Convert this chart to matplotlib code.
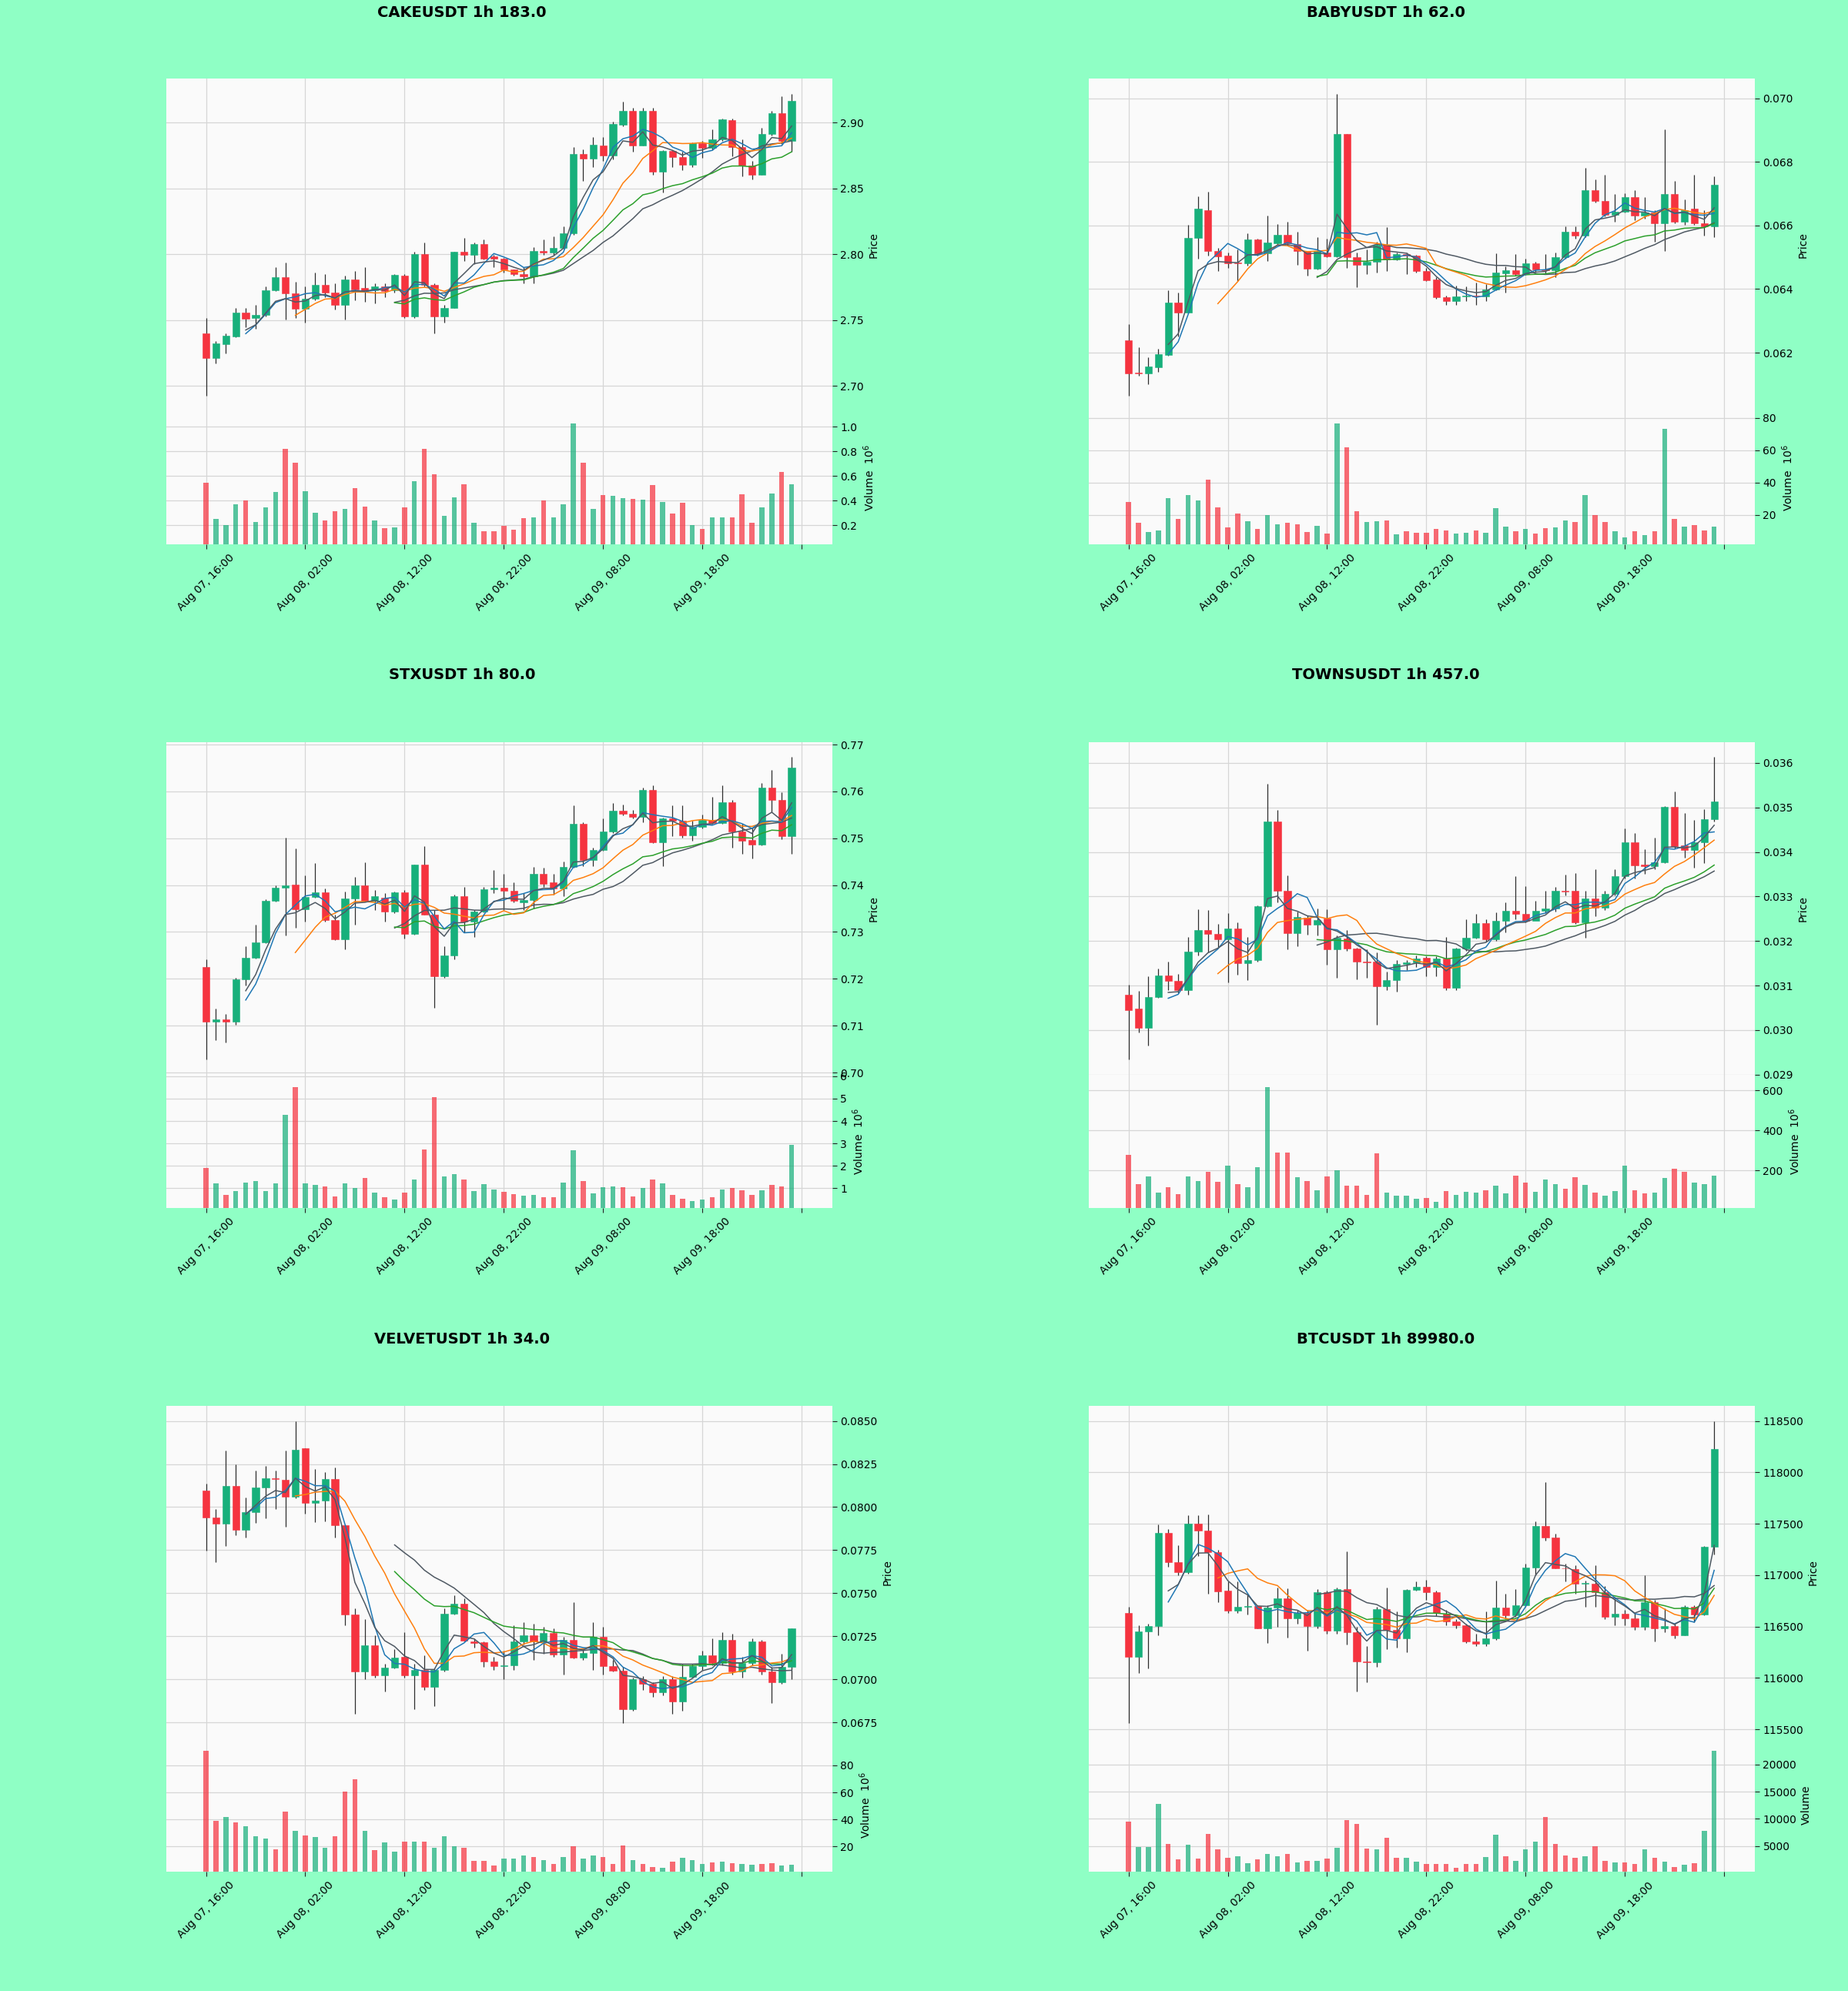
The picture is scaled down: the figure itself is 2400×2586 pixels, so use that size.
import numpy as np
import pandas as pd
import matplotlib
matplotlib.use("Agg")
import matplotlib.pyplot as plt
from matplotlib.ticker import MultipleLocator, ScalarFormatter

# ---------------- data ----------------
TICK_LABELS = ["Aug 07, 16:00", "Aug 08, 02:00", "Aug 08, 12:00", "Aug 08, 22:00",
               "Aug 09, 08:00", "Aug 09, 18:00", ""]

TITLES = ["CAKEUSDT 1h 183.0", "BABYUSDT 1h 62.0", "STXUSDT 1h 80.0",
          "TOWNSUSDT 1h 457.0", "VELVETUSDT 1h 34.0", "BTCUSDT 1h 89980.0"]
VOL_EXP = [6, 6, 6, 6, 6, 0]

CAKE_OPEN = [2.740,2.7214,2.7317,2.7376,2.756,2.7517,2.7538,2.7729,2.7824,2.7705,2.7586,2.7662,2.777,2.771,2.7614,2.781,2.7745,2.7729,2.7757,2.7729,2.784,2.7526,2.800,2.7769,2.7531,2.759,2.802,2.7998,2.8079,2.7983,2.7967,2.7888,2.785,2.783,2.8026,2.8012,2.805,2.8162,2.8762,2.8729,2.8829,2.875,2.8986,2.909,2.8829,2.909,2.863,2.8786,2.8738,2.868,2.8845,2.881,2.8876,2.9019,2.8817,2.8674,2.8602,2.8917,2.9071,2.886]
CAKE_CLOSE = [2.7214,2.7321,2.7381,2.756,2.7512,2.7543,2.7729,2.7824,2.7705,2.7586,2.7662,2.7769,2.771,2.7614,2.781,2.7733,2.7721,2.7757,2.772,2.7845,2.7526,2.800,2.7769,2.7531,2.7591,2.802,2.7998,2.8079,2.7967,2.7967,2.7888,2.7848,2.783,2.8026,2.8012,2.805,2.8162,2.8762,2.8729,2.8833,2.875,2.8988,2.909,2.8829,2.909,2.863,2.8786,2.8738,2.868,2.8845,2.881,2.8876,2.9024,2.8817,2.8674,2.8602,2.8917,2.9071,2.886,2.9167]
CAKE_HIGH = [2.7519,2.734,2.7398,2.759,2.759,2.7614,2.7757,2.79,2.7936,2.7793,2.7757,2.7864,2.7852,2.7781,2.784,2.7876,2.79,2.7781,2.7781,2.7852,2.7852,2.8019,2.809,2.7781,2.7614,2.8019,2.8126,2.809,2.8114,2.7995,2.7971,2.7888,2.79,2.8055,2.8114,2.8138,2.821,2.8817,2.88,2.8888,2.8888,2.9007,2.9157,2.9114,2.9114,2.9114,2.8793,2.8793,2.8781,2.8852,2.8864,2.8948,2.9031,2.9031,2.8876,2.871,2.896,2.909,2.9198,2.9221]
CAKE_LOW = [2.6924,2.7174,2.7245,2.7371,2.7448,2.7436,2.7531,2.7721,2.7507,2.7519,2.7483,2.765,2.7674,2.7579,2.7507,2.765,2.7638,2.7626,2.7674,2.771,2.7519,2.7519,2.7757,2.74,2.7483,2.759,2.7948,2.7924,2.796,2.79,2.7864,2.784,2.7781,2.7781,2.7995,2.7995,2.8043,2.815,2.8555,2.8662,2.871,2.8721,2.8971,2.8781,2.8829,2.8602,2.8471,2.8662,2.8638,2.8662,2.8733,2.8793,2.8864,2.8745,2.859,2.8571,2.8602,2.89,2.884,2.8781]
CAKE_VOL = [0.544,0.253,0.202,0.368,0.404,0.225,0.347,0.47,0.82,0.71,0.475,0.304,0.24,0.314,0.335,0.50,0.352,0.238,0.176,0.181,0.342,0.559,0.82,0.616,0.278,0.424,0.531,0.22,0.15,0.15,0.194,0.163,0.258,0.263,0.404,0.263,0.368,1.024,0.71,0.335,0.444,0.437,0.419,0.411,0.406,0.526,0.391,0.296,0.381,0.2,0.169,0.263,0.266,0.263,0.45,0.22,0.342,0.457,0.633,0.534]

BABY_OPEN = [0.06238,0.06137,0.06134,0.06155,0.06194,0.06358,0.06326,0.0656,0.06647,0.0652,0.06505,0.06484,0.0648,0.06556,0.06513,0.06544,0.06571,0.06541,0.0652,0.06464,0.06515,0.06503,0.06887,0.065,0.06475,0.06487,0.06539,0.06493,0.0651,0.06505,0.06456,0.06431,0.06375,0.06363,0.06377,0.06379,0.06377,0.06399,0.0645,0.06458,0.06446,0.0648,0.06461,0.0646,0.065,0.0658,0.06567,0.06711,0.06676,0.06634,0.06644,0.06689,0.0663,0.0664,0.06608,0.06699,0.06611,0.06652,0.06606,0.06598]
BABY_CLOSE = [0.06134,0.06134,0.06157,0.06196,0.06358,0.06326,0.06562,0.06652,0.0652,0.06503,0.0648,0.0648,0.06556,0.06513,0.06546,0.06571,0.06544,0.0652,0.06464,0.0652,0.06503,0.06887,0.065,0.06475,0.06487,0.06539,0.06493,0.0651,0.06505,0.06456,0.06428,0.06375,0.06363,0.06377,0.06379,0.06378,0.06399,0.06451,0.06458,0.06446,0.0648,0.06461,0.0646,0.065,0.0658,0.06567,0.06711,0.06676,0.06634,0.06644,0.06689,0.0663,0.0664,0.06608,0.06699,0.06611,0.06647,0.06606,0.06598,0.06728]
BABY_HIGH = [0.062892,0.062176,0.061863,0.062127,0.063951,0.063892,0.066029,0.066912,0.067059,0.065294,0.065147,0.065245,0.065755,0.065588,0.066304,0.066049,0.066108,0.065804,0.065147,0.065637,0.065588,0.070147,0.068873,0.065147,0.065245,0.06549,0.065951,0.065147,0.065147,0.065069,0.064657,0.064363,0.063794,0.064118,0.064088,0.064216,0.064167,0.065127,0.064706,0.065098,0.06495,0.064853,0.065098,0.065147,0.06598,0.06598,0.067814,0.067451,0.067598,0.06699,0.06701,0.067108,0.066892,0.066471,0.06902,0.067402,0.066814,0.067598,0.066471,0.067549]
BABY_LOW = [0.060637,0.061275,0.06101,0.061402,0.061912,0.0625,0.063235,0.06495,0.065049,0.064559,0.064657,0.064265,0.064735,0.065049,0.064873,0.065392,0.065373,0.064755,0.064412,0.064608,0.065,0.065,0.064657,0.064069,0.064461,0.06451,0.064559,0.064902,0.064461,0.06451,0.064265,0.063696,0.0635,0.0635,0.063627,0.0635,0.063627,0.063951,0.063892,0.064412,0.064441,0.06451,0.064461,0.064363,0.06495,0.065588,0.065637,0.066716,0.066275,0.066127,0.066402,0.066176,0.066225,0.06549,0.065196,0.066078,0.066029,0.06601,0.065686,0.065637]
BABY_VOL = [28,15,9.3,10.3,30.6,17.4,32.1,29,41.6,24.6,12.6,20.9,16,11.6,19.9,14.1,15.1,14.1,9.3,13.5,8.7,76.4,61.5,22.4,15.7,16.4,16.6,7.9,9.9,8.9,8.9,11.2,10.6,8.7,8.9,10.3,8.9,24.4,13,10,11.2,8.7,11.8,12.2,16.6,15.7,32.3,19.9,15.5,9.9,6.4,9.9,7.4,10,73.1,17.4,13,13.7,10.3,13]

STX_OPEN = [0.72255,0.7108,0.71134,0.7108,0.71987,0.72456,0.72778,0.73664,0.7395,0.74013,0.73483,0.73745,0.73846,0.73248,0.72839,0.73718,0.73987,0.73664,0.73732,0.7343,0.73846,0.7296,0.74436,0.73376,0.72054,0.72503,0.73765,0.73215,0.73436,0.73919,0.73946,0.73886,0.7364,0.7369,0.74248,0.74067,0.73933,0.74389,0.75309,0.74537,0.74758,0.7514,0.7559,0.75523,0.75456,0.76034,0.74919,0.75423,0.75376,0.7506,0.75242,0.75389,0.75329,0.75765,0.75141,0.7496,0.74872,0.76081,0.75812,0.7504]
STX_CLOSE = [0.7108,0.71134,0.7108,0.71987,0.72456,0.72778,0.73664,0.73953,0.74,0.73483,0.73745,0.73846,0.73248,0.72839,0.73718,0.74,0.73664,0.73765,0.7343,0.73846,0.7296,0.74436,0.73376,0.72054,0.72503,0.73765,0.73215,0.73436,0.73919,0.73946,0.73886,0.73664,0.7369,0.74248,0.74034,0.73933,0.74389,0.75309,0.74537,0.74758,0.7514,0.7559,0.75523,0.75456,0.76034,0.74919,0.75423,0.75376,0.7506,0.75242,0.75389,0.75329,0.75765,0.75141,0.7494,0.74872,0.76081,0.75812,0.7504,0.76503]
STX_HIGH = [0.72423,0.71362,0.71248,0.7202,0.72691,0.73161,0.73698,0.74,0.75007,0.74785,0.74201,0.7447,0.73933,0.73362,0.73866,0.74168,0.7449,0.73899,0.73832,0.73866,0.73899,0.74436,0.74839,0.73463,0.72691,0.73799,0.73966,0.73463,0.73966,0.74315,0.74248,0.74067,0.73832,0.74389,0.74369,0.74235,0.74503,0.75711,0.75342,0.74805,0.75423,0.75745,0.75725,0.75611,0.76081,0.76128,0.75443,0.75711,0.75711,0.75376,0.7551,0.75879,0.76128,0.75812,0.75309,0.75228,0.76181,0.76463,0.7598,0.76732]
STX_LOW = [0.70275,0.70691,0.70644,0.71013,0.71852,0.72436,0.72758,0.73644,0.72926,0.73094,0.73228,0.73732,0.73215,0.72826,0.72624,0.73161,0.73644,0.73463,0.73228,0.73396,0.72859,0.72946,0.73362,0.71383,0.7202,0.72423,0.72993,0.72893,0.73416,0.73832,0.73463,0.73631,0.73463,0.73497,0.73966,0.73799,0.73765,0.74369,0.74403,0.74403,0.74738,0.75107,0.7549,0.7543,0.75342,0.74906,0.74403,0.7504,0.75007,0.7494,0.75208,0.75309,0.75309,0.74805,0.74671,0.7457,0.74852,0.75564,0.74973,0.74671]
STX_VOL = [1.92,1.22,0.69,0.87,1.26,1.33,0.87,1.22,4.27,5.51,1.22,1.15,1.08,0.63,1.22,1.01,1.47,0.80,0.59,0.49,0.80,1.40,2.73,5.06,1.52,1.64,1.38,0.87,1.17,0.94,0.84,0.73,0.66,0.70,0.59,0.59,1.26,2.69,1.31,0.77,1.05,1.08,1.05,0.63,1.03,1.38,1.22,0.70,0.52,0.42,0.49,0.59,0.94,1.03,0.90,0.70,0.91,1.15,1.10,2.92]

TOWNS_OPEN = [0.0308,0.030484,0.030045,0.030738,0.031233,0.031106,0.030894,0.031764,0.032238,0.032167,0.032047,0.032287,0.031495,0.03158,0.032789,0.034678,0.033136,0.032181,0.03252,0.03236,0.0325,0.031813,0.032061,0.031835,0.031544,0.031531,0.030979,0.03112,0.031494,0.031523,0.031622,0.031424,0.031601,0.030943,0.031834,0.032082,0.0324,0.032047,0.03245,0.032676,0.032605,0.03245,0.032683,0.032733,0.033136,0.033122,0.032414,0.032959,0.032754,0.033065,0.033461,0.034218,0.033723,0.033687,0.033772,0.035017,0.034147,0.034041,0.034218,0.034727]
TOWNS_CLOSE = [0.030455,0.030045,0.030738,0.031233,0.031106,0.030894,0.031764,0.032238,0.032167,0.032047,0.032287,0.031495,0.03158,0.032789,0.034678,0.033122,0.032181,0.032542,0.03236,0.032471,0.031813,0.032075,0.031835,0.031544,0.031523,0.030979,0.03112,0.031494,0.031523,0.031608,0.031424,0.031615,0.030943,0.031834,0.032082,0.0324,0.032047,0.03245,0.032676,0.032605,0.03245,0.032683,0.032733,0.033136,0.033108,0.032414,0.032959,0.032754,0.033065,0.033461,0.034218,0.033702,0.033687,0.033772,0.035017,0.034126,0.034041,0.034218,0.034727,0.035137]
TOWNS_HIGH = [0.031014,0.030873,0.031212,0.031389,0.03153,0.031269,0.032096,0.032711,0.032697,0.032379,0.032627,0.032414,0.032096,0.032803,0.035526,0.034946,0.033475,0.032662,0.03257,0.032733,0.032711,0.032132,0.032238,0.031849,0.031813,0.031743,0.031318,0.031566,0.03158,0.031672,0.031651,0.031651,0.032096,0.031849,0.032485,0.032612,0.032485,0.032641,0.032874,0.033461,0.033228,0.032909,0.033122,0.033214,0.033489,0.033532,0.033136,0.033617,0.033122,0.033617,0.034522,0.03443,0.034055,0.034324,0.035031,0.035349,0.034876,0.034713,0.03496,0.036127]
TOWNS_LOW = [0.029338,0.029953,0.029656,0.030717,0.030894,0.030823,0.030802,0.031672,0.031743,0.031863,0.031071,0.031248,0.031127,0.031545,0.032768,0.032874,0.031813,0.031884,0.032146,0.032132,0.03146,0.031177,0.031778,0.031141,0.031177,0.030116,0.030894,0.030859,0.031354,0.031424,0.031212,0.031212,0.030894,0.030894,0.031778,0.032061,0.03199,0.032004,0.032202,0.032485,0.032414,0.032627,0.032627,0.032662,0.033016,0.032379,0.032075,0.032556,0.032697,0.033016,0.033405,0.033405,0.033511,0.033617,0.033758,0.034076,0.033864,0.033652,0.033758,0.034678]
TOWNS_VOL = [280,134,169,90,118,84,169,147,192,145,224,134,118,216,616,291,288,165,147,100,169,200,123,126,79,286,90,75,75,60,64,45,98,79,95,90,103,126,87,176,139,95,155,134,111,165,129,90,75,98,224,103,87,90,162,209,192,139,134,176]

VELVET_OPEN = [0.08095,0.07941,0.07902,0.08124,0.07868,0.07972,0.08115,0.08168,0.08159,0.0806,0.08342,0.08023,0.0804,0.08165,0.07895,0.07376,0.07047,0.07197,0.07023,0.0707,0.07129,0.07025,0.07056,0.06955,0.07056,0.0738,0.07441,0.07221,0.07217,0.07102,0.07078,0.07082,0.07221,0.07254,0.07221,0.07267,0.07144,0.0723,0.07125,0.07151,0.07248,0.07078,0.07052,0.06827,0.07001,0.06973,0.06927,0.07001,0.06872,0.07014,0.07078,0.07138,0.07096,0.0723,0.07047,0.07096,0.07221,0.07047,0.06982,0.07074]
VELVET_CLOSE = [0.07941,0.07902,0.08124,0.07868,0.07972,0.08115,0.08168,0.08163,0.0806,0.08335,0.08023,0.0804,0.08165,0.07895,0.07376,0.07047,0.07197,0.07023,0.0707,0.07124,0.07025,0.07056,0.06955,0.07056,0.0738,0.07441,0.07226,0.07212,0.07102,0.07078,0.07082,0.07221,0.07254,0.07221,0.0727,0.07144,0.0723,0.07125,0.07151,0.07248,0.07078,0.07052,0.06827,0.07001,0.06973,0.06927,0.07001,0.06872,0.07014,0.07078,0.07138,0.07096,0.0723,0.07047,0.07096,0.07221,0.07047,0.06982,0.07074,0.07294]
VELVET_HIGH = [0.081371,0.079905,0.083295,0.082471,0.080546,0.082104,0.082379,0.082104,0.083295,0.085,0.083424,0.082196,0.082012,0.082287,0.078988,0.074131,0.07349,0.072573,0.070924,0.071749,0.072757,0.070924,0.071382,0.070649,0.074131,0.074864,0.074681,0.07239,0.072207,0.07129,0.071657,0.073123,0.073306,0.073215,0.073031,0.07294,0.072482,0.074498,0.071749,0.073306,0.073031,0.071107,0.07074,0.070099,0.070191,0.069824,0.070191,0.070191,0.070924,0.070924,0.071657,0.07239,0.072757,0.072665,0.07129,0.07239,0.072298,0.07074,0.071474,0.072977]
VELVET_LOW = [0.077485,0.076789,0.077742,0.078347,0.078218,0.07908,0.079355,0.079905,0.078842,0.0805,0.07963,0.079135,0.079172,0.078255,0.073123,0.067991,0.070007,0.070099,0.069274,0.070649,0.070099,0.068266,0.069366,0.068449,0.070466,0.073765,0.072207,0.07184,0.07074,0.070557,0.070007,0.070557,0.072023,0.071107,0.071474,0.07129,0.070282,0.071199,0.071144,0.070557,0.070282,0.070466,0.067441,0.068175,0.069366,0.068999,0.069091,0.067991,0.068175,0.070099,0.070557,0.070832,0.070832,0.070282,0.070099,0.070832,0.070282,0.068633,0.069732,0.070007]
VELVET_VOL = [90.8,39.2,42.0,38.0,35.0,27.5,25.9,17.7,45.7,31.5,28.0,26.8,18.9,27.5,60.7,70.0,31.7,17.0,22.9,15.9,23.6,23.3,23.3,18.9,27.5,20.1,18.9,9.3,9.3,5.8,11.2,11.2,13.5,11.9,9.6,7.2,12.4,20.1,11.2,13.5,12.4,7.2,20.5,9.6,7.0,4.7,4.2,8.9,11.7,10.0,7.2,8.4,8.9,7.7,7.0,6.5,7.0,7.7,5.8,6.5]

BTC_OPEN = [116633,116203,116455,116504,117410,117124,117032,117502,117431,117222,116847,116657,116694,116700,116485,116688,116771,116577,116633,116504,116838,116458,116863,116442,116163,116155,116669,116464,116387,116854,116885,116838,116627,116547,116516,116356,116335,116387,116688,116608,116709,117072,117477,117370,117069,117057,116918,116918,116832,116596,116627,116580,116494,116740,116479,116504,116418,116694,116617,117278]
BTC_CLOSE = [116203,116455,116504,117410,117124,117032,117502,117431,117222,116841,116657,116694,116700,116485,116688,116771,116577,116633,116504,116838,116458,116863,116442,116163,116155,116669,116464,116387,116854,116885,116838,116633,116547,116510,116356,116335,116387,116688,116608,116709,117072,117477,117370,117069,117063,116918,116920,116832,116596,116627,116580,116494,116740,116479,116504,116418,116694,116617,117278,118230]
BTC_HIGH = [116694,116516,116525,117493,117447,117293,117585,117585,117591,117247,116940,116940,116817,116709,116709,116878,116872,116663,116663,116863,116848,116878,117232,116494,116310,116694,116878,116648,116863,116940,116955,116848,116663,116571,116525,116433,116648,116946,116817,116863,117109,117523,117907,117400,117109,117100,116946,117093,116894,116786,116663,116633,117001,116756,116679,116525,116709,116709,117284,118500]
BTC_LOW = [115558,116049,116095,116418,117078,117001,117017,117186,116817,116740,116633,116633,116617,116479,116341,116494,116393,116525,116264,116479,116433,116433,116326,115865,115957,116111,116279,116295,116249,116848,116756,116602,116510,116479,116341,116310,116310,116372,116571,116596,116694,117001,117339,117063,116940,116817,116694,116694,116571,116510,116510,116464,116464,116356,116448,116387,116418,116541,116608,117201]
BTC_VOL = [9520,4847,4847,12809,5424,2597,5193,2712,7213,4443,2885,3174,1846,2597,3577,3174,3577,2020,2308,2308,2712,4731,9809,9059,4616,4443,6578,2827,2827,2135,1731,1731,1731,981,1731,1731,3000,7039,3116,2308,4443,5885,10386,5424,3289,2827,3116,4905,2308,1962,1962,1731,4443,2885,2135,1096,1558,1846,7790,22503]

CHARTS = [
    (TITLES[0], CAKE_OPEN, CAKE_HIGH, CAKE_LOW, CAKE_CLOSE, CAKE_VOL, VOL_EXP[0]),
    (TITLES[1], BABY_OPEN, BABY_HIGH, BABY_LOW, BABY_CLOSE, BABY_VOL, VOL_EXP[1]),
    (TITLES[2], STX_OPEN, STX_HIGH, STX_LOW, STX_CLOSE, STX_VOL, VOL_EXP[2]),
    (TITLES[3], TOWNS_OPEN, TOWNS_HIGH, TOWNS_LOW, TOWNS_CLOSE, TOWNS_VOL, VOL_EXP[3]),
    (TITLES[4], VELVET_OPEN, VELVET_HIGH, VELVET_LOW, VELVET_CLOSE, VELVET_VOL, VOL_EXP[4]),
    (TITLES[5], BTC_OPEN, BTC_HIGH, BTC_LOW, BTC_CLOSE, BTC_VOL, VOL_EXP[5]),
]

# ---------------- style ----------------
PRICE_STEP = [0.05, 0.002, 0.01, 0.001, 0.0025, 500]
VOL_STEP = [0.2, 20, 1, 200, 20, 5000]
FIG_BG = "#8fffc5"
AX_BG = "#fafafa"
GRID = "#d6d6d6"
UP = "#17b07b"
DOWN = "#f5333f"
WICK = "#2e2e2e"
MA_STYLE = [  # (kind, period, color)
    ("sma", 20, "#4f5963"),
    ("ema", 20, "#2ca02c"),
    ("sma", 10, "#ff7f0e"),
    ("sma", 5, "#1f77b4"),
    ("ema", 5, "#4f5963"),
]

COL_X = [0.09, 0.5892]
AX_W = 0.3604
PRICE_Y = [0.7935, 0.4602, 0.1268]
PRICE_H = 0.1671
VOL_Y = [0.7266, 0.3933, 0.0599]
VOL_H = 0.0669
TITLE_X = [0.25, 0.75]
TITLE_Y = [0.9938, 0.6609, 0.3275]

fig = plt.figure(figsize=(24, 25.86), dpi=100, facecolor=FIG_BG)


def style_axis(ax):
    ax.set_facecolor(AX_BG)
    for s in ax.spines.values():
        s.set_visible(False)
    ax.set_axisbelow(True)
    ax.grid(True, color=GRID, linewidth=0.9)
    ax.yaxis.tick_right()
    ax.yaxis.set_label_position("right")
    ax.tick_params(axis="y", labelsize=10, length=4, color="#222222")
    ax.tick_params(axis="x", labelsize=10, length=4, color="#222222")


for k, (title, o, h, l, c, v, vexp) in enumerate(CHARTS):
    row, col = divmod(k, 2)
    o = np.array(o, float); h = np.array(h, float)
    l = np.array(l, float); c = np.array(c, float); v = np.array(v, float)
    n = len(o)
    x = np.arange(n)

    axp = fig.add_axes([COL_X[col], PRICE_Y[row], AX_W, PRICE_H])
    axv = fig.add_axes([COL_X[col], VOL_Y[row], AX_W, VOL_H], sharex=axp)
    style_axis(axp)
    style_axis(axv)

    up = c >= o
    colors = np.where(up, UP, DOWN)
    rng = h.max() - l.min()

    axp.vlines(x, l, h, color=WICK, linewidth=0.9, zorder=2)
    body = np.maximum(np.abs(c - o), rng * 0.0015)
    axp.bar(x, body, bottom=np.minimum(o, c), width=0.72, color=colors,
            edgecolor=colors, linewidth=0.4, zorder=3)

    cs = pd.Series(c)
    for kind, p, col_ma in MA_STYLE:
        if kind == "sma":
            ma = cs.rolling(p).mean()
        else:
            ma = cs.ewm(span=p, adjust=False).mean()
            ma[:p - 1] = np.nan
        axp.plot(x, ma.values, color=col_ma, linewidth=1.1, zorder=4)

    axp.set_ylim(l.min() - 0.05 * rng, h.max() + 0.05 * rng)
    axp.yaxis.set_major_locator(MultipleLocator(PRICE_STEP[k]))
    fmt = ScalarFormatter(useOffset=False)
    axp.yaxis.set_major_formatter(fmt)
    axp.set_ylabel("Price", fontsize=10)

    axv.bar(x, v, width=0.5, color=colors, alpha=0.72, zorder=3)
    axv.set_ylim(0.3 * v.min(), 1.1 * v.max())
    axv.yaxis.set_major_locator(MultipleLocator(VOL_STEP[k]))
    axv.yaxis.set_major_formatter(ScalarFormatter(useOffset=False))
    axv.set_ylabel("Volume  $10^{%d}$" % vexp if vexp else "Volume", fontsize=10)

    axp.set_xlim(-4.0, 63.1)
    axv.set_xticks(np.arange(0, 61, 10))
    axv.set_xticklabels(TICK_LABELS, rotation=45, ha="center", fontsize=10)
    axp.tick_params(axis="x", bottom=False, labelbottom=False)

    fig.text(TITLE_X[col], TITLE_Y[row], title, ha="center", va="center",
             fontsize=14, fontweight="bold", color="black")

fig.savefig("out.png", dpi=100, facecolor=FIG_BG)
